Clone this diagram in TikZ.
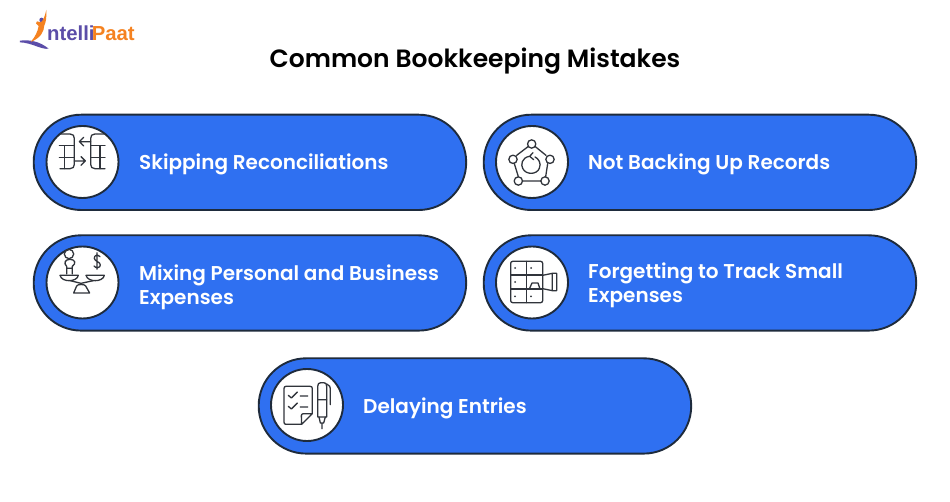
\documentclass[tikz,border=0pt]{standalone}
\usepackage{fontspec}
\setmainfont{Poppins}[BoldFont={Poppins SemiBold}]
\newfontfamily\logofont{Liberation Sans}
\definecolor{pillblue}{HTML}{2F70F1}
\definecolor{inkdark}{HTML}{1E2B3C}
\definecolor{iconink}{HTML}{30343B}
\definecolor{logopurple}{HTML}{5B4DA8}
\definecolor{logoorange}{HTML}{F58220}
\tikzset{
  pill/.style={draw=inkdark,line width=1.9pt,fill=pillblue,rounded corners=47.5pt,minimum width=432.5pt,minimum height=95.3pt,inner sep=0pt,outer sep=0pt,anchor=north west},
  disc/.style={circle,draw=inkdark,line width=1.9pt,fill=white,minimum size=72pt,inner sep=0pt,outer sep=0pt},
  lbl/.style={text=white,font=\fontsize{20}{24}\selectfont\bfseries,align=left,anchor=west,inner sep=0pt},
  ttl/.style={text=black,font=\fontsize{25}{30}\selectfont\bfseries,inner sep=0pt,anchor=base},
  ico/.style={draw=iconink,line width=1.3pt,line join=round,line cap=round},
  zoomed/.style={x=0.33333pt,y=-0.33333pt}
}
\begin{document}
\begin{tikzpicture}[x=1pt,y=-1pt]
\useasboundingbox[fill=white] (0,0) rectangle (950,502);
% logo
\begin{scope}[shift={(0,0)},zoomed]
  \fill[logopurple] (60,122) .. controls (90,118) and (120,125) .. (146,146) .. controls (125,150) and (95,128) .. (60,127) -- cycle;
  \fill[logopurple] (125,60) circle (7);
  \fill[logoorange] (139,30) .. controls (140,50) and (138,68) .. (133,76) .. controls (132,95) and (122,114) .. (92,126) .. controls (106,110) and (113,95) .. (116,78) -- (108,70) -- (111,64) -- (122,67) .. controls (130,62) and (134,50) .. cycle;
  \node[anchor=base west,inner sep=0pt,text=logopurple] (logoA) at (141,123) {\logofont\fontsize{20.3}{21}\selectfont\bfseries ntelli};
  \node[anchor=base west,inner sep=0pt,text=logoorange] (logoB) at (275,123) {\logofont\fontsize{20.3}{21}\selectfont\bfseries Paat};
\end{scope}
\node[ttl] (title) at (475,68) {Common Bookkeeping Mistakes};
% pills
\node[pill] (p1) at (33.7,114.7) {};
\node[pill] (p2) at (483.7,114.7) {};
\node[pill] (p3) at (33.7,235.3) {};
\node[pill] (p4) at (483.7,235.3) {};
\node[pill] (p5) at (258.7,358.3) {};
\node[disc] (c1) at (82.5,162) {};
\node[disc] (c2) at (532,162) {};
\node[disc] (c3) at (82.5,282.5) {};
\node[disc] (c4) at (532,282.5) {};
\node[disc] (c5) at (307,405) {};
\node[lbl] (t1) at (139,164) {Skipping Reconciliations};
\node[lbl] (t2) at (588,164) {Not Backing Up Records};
\node[lbl] (t3) at (139,287) {Mixing Personal and Business\\Expenses};
\node[lbl] (t4) at (588,285) {Forgetting to Track Small\\Expenses};
\node[lbl] (t5) at (363,408) {Delaying Entries};
% icon 1
\begin{scope}[shift={(25,105)},zoomed]
  \draw[ico] (105,87) -- (135,87) .. controls (144,87) and (148,92) .. (148,100) -- (148,178) .. controls (148,186) and (144,191) .. (135,191) -- (105,191);
  \draw[ico] (103,122) -- (148,122) (103,157) -- (148,157) (118,122) -- (118,191);
  \draw[ico] (240,87) -- (210,87) .. controls (201,87) and (197,92) .. (197,100) -- (197,178) .. controls (197,186) and (201,191) .. (210,191) -- (240,191);
  \draw[ico] (197,122) -- (240,122) (197,157) -- (240,157) (225,122) -- (225,191);
  \draw[ico] (197,110) -- (163,110) (176,97) -- (163,110) -- (176,123);
  \draw[ico] (148,168) -- (181,168) (168,155) -- (181,168) -- (168,181);
\end{scope}
% icon 2
\begin{scope}[shift={(480,110)},zoomed]
  \draw[ico] (144,110) -- (110,136) (166,110) -- (198,136) (203,161) -- (197,200) (183,213) -- (128,213) (115,200) -- (103,161);
  \draw[ico] (155,102) circle (12.5) (99,148) circle (12.5) (210,148) circle (12.5) (115,213) circle (12.5) (195,213) circle (12.5);
  \draw[ico] (148,139) .. controls (125,143) and (122,165) .. (128,175) .. controls (137,195) and (170,195) .. (178,175) .. controls (185,160) and (175,145) .. (165,141);
  \draw[ico] (159,128) -- (149,139) -- (161,149);
\end{scope}
% icon 3
\begin{scope}[shift={(25,230)},zoomed]
  \draw[ico] (132,72) circle (14);
  \draw[ico] (125,109) .. controls (115,100) and (120,88) .. (135,88) .. controls (150,88) and (155,100) .. (142,109) -- (142,132) (125,109) -- (125,132) (125,115) -- (142,115);
  \draw[ico] (105,136) -- (160,136) .. controls (158,147) and (145,152) .. (132,152) .. controls (120,152) and (108,147) .. (105,136);
  \draw[ico] (183,136) -- (238,136) .. controls (236,147) and (223,152) .. (211,152) .. controls (198,152) and (186,147) .. (183,136);
  \draw[ico] (136,152) -- (168,160) -- (205,152);
  \draw[ico] (146,189) -- (155,168) .. controls (157,162) and (180,162) .. (182,168) -- (194,189) -- cycle;
  \draw[ico] (225,80) .. controls (218,72) and (207,76) .. (208,85) .. controls (209,95) and (226,95) .. (226,105) .. controls (226,114) and (213,116) .. (207,108) (216,68) -- (216,118);
\end{scope}
% icon 4
\begin{scope}[shift={(480,230)},zoomed]
  \draw[ico,rounded corners=2pt] (92,94) rectangle (188,218);
  \draw[ico] (140,94) -- (140,218) (92,135) -- (188,135) (92,177) -- (188,177);
  \foreach \a/\b in {105/114,153/114,105/156,105/199,153/199} \fill[iconink] (\a,\b) circle (3);
  \draw[ico] (188,136) -- (217,130) -- (230,130) -- (230,182) -- (217,182) -- (188,176) (217,130) -- (217,182);
  \draw[ico] (148,177) -- (156,159) -- (174,159) -- (180,177);
\end{scope}
% icon 5
\begin{scope}[shift={(255,352)},zoomed]
  \draw[ico] (172,185) -- (172,110) .. controls (172,105) and (170,103) .. (165,103) -- (93,103) .. controls (89,103) and (87,105) .. (87,110) -- (87,210) .. controls (87,215) and (89,217) .. (93,217) -- (140,217) -- (172,185) -- (145,185) .. controls (141,185) and (139,188) .. (139,191) -- (140,217);
  \draw[ico] (100,130) -- (109,138) -- (127,120) (136,132) -- (158,132);
  \draw[ico] (100,163) -- (109,171) -- (127,153) (136,165) -- (158,165);
  \draw[ico] (188,103) .. controls (188,95) and (192,92) .. (198,92) -- (206,92) .. controls (212,92) and (215,95) .. (215,103) -- (215,195) -- (188,195) -- cycle;
  \draw[ico] (188,143) -- (215,143) (215,96) .. controls (224,98) and (226,105) .. (226,115) -- (226,158);
  \draw[ico] (192,195) -- (196,213) -- (206,213) -- (211,195) (201,213) -- (201,230);
\end{scope}
\end{tikzpicture}
\end{document}
